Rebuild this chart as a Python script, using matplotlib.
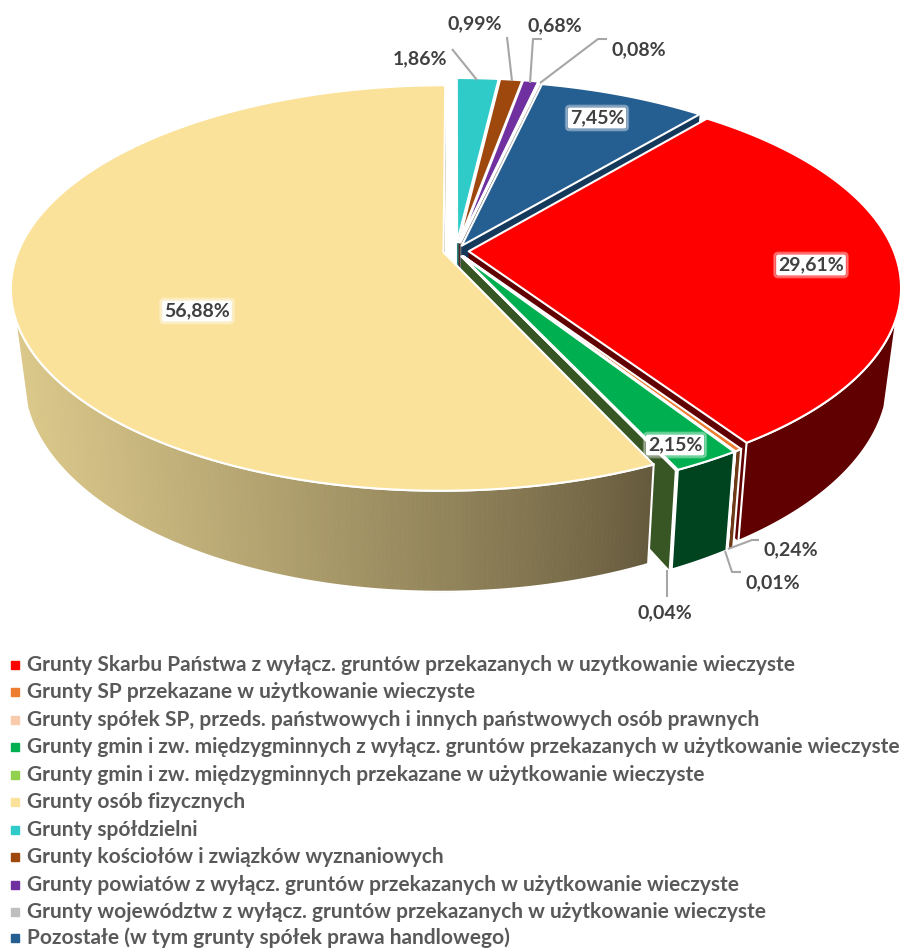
import numpy as np
import matplotlib
matplotlib.use("Agg")
import matplotlib.pyplot as plt
from matplotlib.patches import Polygon

plt.rcParams['font.family'] = ['Lato', 'DejaVu Sans']

categories = [
    "Grunty Skarbu Państwa z wyłącz. gruntów przekazanych w uzytkowanie wieczyste",
    "Grunty SP przekazane w użytkowanie wieczyste",
    "Grunty spółek SP, przeds. państwowych i innych państwowych osób prawnych",
    "Grunty gmin i zw. międzygminnych z wyłącz. gruntów przekazanych w użytkowanie wieczyste",
    "Grunty gmin i zw. międzygminnych przekazane w użytkowanie wieczyste",
    "Grunty osób fizycznych",
    "Grunty spółdzielni",
    "Grunty kościołów i związków wyznaniowych",
    "Grunty powiatów z wyłącz. gruntów przekazanych w użytkowanie wieczyste",
    "Grunty województw z wyłącz. gruntów przekazanych w użytkowanie wieczyste",
    "Pozostałe (w tym grunty spółek prawa handlowego)",
]
values = [29.61, 0.24, 0.01, 2.15, 0.04, 56.88, 1.86, 0.99, 0.68, 0.08, 7.45]
top_colors = ["#FF0000", "#ED7D31", "#F8CBAD", "#00B050", "#92D050", "#FBE29B",
              "#2FCBC9", "#9E480E", "#7030A0", "#BFBFBF", "#255E91"]
side_colors = ["#600000", "#6E3A17", "#8A6A55", "#00431F", "#375623", "#8A7C55",
               "#1C7A78", "#5E2B08", "#431D60", "#737373", "#15395A"]
explode = [0.03, 0.03, 0.03, 0.03, 0.03, 0.03, 0.045, 0.045, 0.045, 0.045, 0.03]
first_angle = 39.8

# layout of the label texts (pixel position, boxed or not)
label_pos = [(811, 265, True), (791, 550, False), (773, 583, False), (675, 445, True),
             (665, 613, False), (197, 311, True), (420, 59, False), (475, 24, False),
             (555, 26, False), (639, 50, False), (597, 118, True)]
leaders = [[(452, 49), (477, 80)], [(507, 37), (512, 81)],
           [(542, 39), (533, 39), (530, 83)], [(607, 39), (598, 39), (540, 83)],
           [(759, 540), (752, 540), (728, 549)], [(741, 572), (732, 572), (725, 551)],
           [(667, 570), (667, 597)]]
legend_y = [665, 692, 720, 747, 775, 802, 830, 857, 885, 912, 938]

X0, Y0, A, B, K = 456.0, 251.0, 425.0, 196.0, 0.176
S = 0.972
WALL_START_Y = 315


def top_xy(X, Y):
    X, Y = np.asarray(X), np.asarray(Y)
    d = 1 + K * Y
    return X0 + A * X / d, Y0 - B * Y / d


def bottom_xy(x, y):
    return X0 + S * (x - X0), y + 89 + 0.06 * (y - 290)


fig = plt.figure(figsize=(9.01, 9.5), dpi=100, facecolor="white")
ax = fig.add_axes([0, 0, 1, 1])
ax.set_xlim(0, 901)
ax.set_ylim(950, 0)
ax.axis("off")

vals = np.array(values)
fracs = vals / vals.sum() * 360
starts = first_angle + np.concatenate([[0], np.cumsum(fracs)[:-1]])
WHITE = 1.5


def lerp(c0, c1, u):
    a, b = np.array(matplotlib.colors.to_rgb(c0)), np.array(matplotlib.colors.to_rgb(c1))
    return a + (b - a) * u


def draw_slice(i):
    t0, t1 = np.radians(starts[i]), np.radians(starts[i] + fracs[i])
    mid = (t0 + t1) / 2
    ox, oy = explode[i] * np.sin(mid), explode[i] * np.cos(mid)
    n = max(4, int(fracs[i] * 2))
    t = np.linspace(t0, t1, n)
    x, y = top_xy(np.sin(t) + ox, np.cos(t) + oy)
    ax_, ay_ = top_xy(ox, oy)
    bx, by = bottom_xy(x, y)
    abx, aby = bottom_xy(ax_, ay_)
    # cut faces
    for ex, ey, ebx, eby in ((x[0], y[0], bx[0], by[0]), (x[-1], y[-1], bx[-1], by[-1])):
        ax.add_patch(Polygon([(ax_, ay_), (ex, ey), (ebx, eby), (abx, aby)], closed=True,
                             fc=side_colors[i], ec="none"))
    # outer wall, only where it faces the viewer
    vis = y >= WALL_START_Y
    if vis.sum() >= 2:
        vx, vy, vbx, vby = x[vis], y[vis], bx[vis], by[vis]
        if i == 5:
            for j in range(len(vx) - 1):
                u = np.clip((650 - (vx[j] + vx[j + 1]) / 2) / 640, 0, 1)
                col = lerp("#655A3D", "#DCC98B", u ** 0.85)
                ax.add_patch(Polygon([(vx[j], vy[j]), (vx[j + 1], vy[j + 1]),
                                      (vbx[j + 1], vby[j + 1]), (vbx[j], vby[j])],
                                     closed=True, fc=col, ec=col, lw=0.6))
            ax.add_patch(Polygon(np.r_[np.c_[vx, vy], np.c_[vbx, vby][::-1]], closed=True,
                                 fc="none", ec="white", lw=WHITE))
        else:
            ax.add_patch(Polygon(np.r_[np.c_[vx, vy], np.c_[vbx, vby][::-1]], closed=True,
                                 fc=side_colors[i], ec="white", lw=WHITE))
    # top face
    ax.add_patch(Polygon(np.r_[[(ax_, ay_)], np.c_[x, y]], closed=True,
                         fc=top_colors[i], ec="white", lw=WHITE, joinstyle="round"))


for i in [6, 7, 8, 9, 10, 0, 1, 2, 3, 4, 5]:
    draw_slice(i)

for pts in leaders:
    p = np.array(pts)
    ax.plot(p[:, 0], p[:, 1], color="#A6A6A6", lw=1.5, solid_capstyle="butt")

for v, (lx, ly, boxed) in zip(values, label_pos):
    s = f"{v:.2f}".replace(".", ",") + "%"
    if boxed:
        ax.text(lx, ly, s, fontsize=14, fontweight="bold", color="#404040", ha="center", va="center",
                bbox=dict(boxstyle="round,pad=0.2", fc="white", ec="white", lw=1.5, alpha=0.3))
        ax.text(lx, ly, s, fontsize=14, fontweight="bold", color="#404040", ha="center", va="center",
                bbox=dict(boxstyle="round,pad=0.1", fc="white", ec="none"))
    else:
        ax.text(lx, ly, s, fontsize=14, fontweight="bold", color="#404040", ha="center", va="center")

for name, c, yy in zip(categories, top_colors, legend_y):
    ax.plot([14.5], [yy], marker="s", ms=6, color=c, mec=c, ls="none")
    ax.text(27, yy, name, fontsize=15, fontweight="bold", color="#595959", ha="left", va="center")

fig.savefig("out.png", dpi=100, facecolor="white")
